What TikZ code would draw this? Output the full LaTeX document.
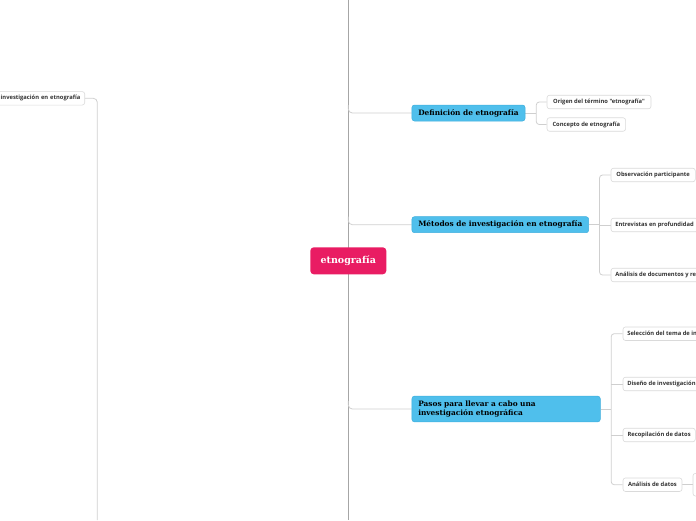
\documentclass[tikz,border=0pt]{standalone}
\usepackage{fontspec}
\setmainfont{DejaVu Serif}
\newfontfamily\labfont{Open Sans}
\newfontfamily\slabfont{DejaVu Serif}
\usetikzlibrary{calc,backgrounds}
\definecolor{pinkc}{HTML}{E91C63}
\definecolor{bluec}{HTML}{4FBFEC}
\definecolor{blueb}{HTML}{3FAEDC}
\definecolor{subb}{HTML}{DADADA}
\definecolor{txtc}{HTML}{333333}
\definecolor{trunkc}{HTML}{A6A6A6}
\definecolor{branchc}{HTML}{CFCFCF}
\tikzset{
  sub/.style={draw=subb, fill=white, rounded corners=2.5pt, line width=0.6pt,
    minimum height=13.5pt, inner ysep=0pt, inner xsep=4.3pt, anchor=west,
    font=\labfont\bfseries\fontsize{5.8}{7}\selectfont, text=txtc},
  mainbox/.style={draw=blueb, fill=bluec, rounded corners=2.5pt, line width=0.5pt,
    minimum height=16pt, inner xsep=6.3pt, inner ysep=0pt, anchor=west,
    font=\slabfont\bfseries\fontsize{7.4}{9}\selectfont, text=black},
  centerbox/.style={fill=pinkc, rounded corners=3.5pt, minimum width=76pt,
    minimum height=27pt, inner sep=0pt,
    font=\slabfont\bfseries\fontsize{9.5}{11}\selectfont, text=white},
  trunk/.style={draw=trunkc, line width=0.9pt},
  branch/.style={draw=branchc, line width=0.8pt, rounded corners=3pt}
}
\begin{document}
\begin{tikzpicture}[x=1pt,y=-1pt]
\useasboundingbox (0,0) rectangle (696,520);
\clip (0,0) rectangle (696,520);
% nodes
\node[centerbox] (c) at (348.3,260.8) {etnografía};
\node[mainbox, minimum width=112.3pt] (d) at (411.7,113) {Definición de etnografía};
\node[mainbox, minimum width=176pt] (m) at (411.7,224.7) {Métodos de investigación en etnografía};
\node[mainbox, minimum height=25.7pt, text width=175.7pt, align=left,
  font=\slabfont\bfseries\fontsize{7.4}{9}\selectfont] (p) at (411.7,409)
  {Pasos para llevar a cabo una\\investigación etnográfica};
\node[sub, minimum width=104pt] (o1) at (546.7,102) {Origen del término "etnografía"};
\node[sub, minimum width=78.6pt] (o2) at (546.7,124.5) {Concepto de etnografía};
\node[sub, minimum width=84.3pt] (m1) at (610.7,175) {Observación participante};
\node[sub] (m2) at (610.7,225) {Entrevistas en profundidad};
\node[sub] (m3) at (610.7,275) {Análisis de documentos y registros};
\node[sub] (p1) at (622.7,333.7) {Selección del tema de investigación};
\node[sub] (p2) at (622.7,384) {Diseño de investigación};
\node[sub, minimum width=72.3pt] (p3) at (622.7,435) {Recopilación de datos};
\node[sub, minimum width=59pt] (p4) at (622.7,484.7) {Análisis de datos};
\node[sub, minimum width=40pt, minimum height=22.7pt] (a1) at (692.7,484.7) {};
\node[sub, anchor=east, text width=110pt, align=right] (l1) at (85,98.3) {investigación en etnografía};
% connectors
\coordinate (ttop) at (348.3,0);
\coordinate (tbot) at (348.3,520);
\coordinate (lb) at (97.3,520);
\begin{scope}[on background layer]
\draw[trunk] (ttop) -- (tbot);
\draw[branch, rounded corners=4pt] (d.west -| ttop) ++(0,-8) |- (d.west);
\draw[branch, rounded corners=4pt] (m.west -| ttop) ++(0,-8) |- (m.west);
\draw[branch, rounded corners=4pt] (p.west -| ttop) ++(0,-8) |- (p.west);
% definicion
\coordinate (dj) at ($(d.east)+(11,0)$);
\draw[branch] (d.east) -- (dj);
\draw[branch] (o1.west) -| (dj) |- (o2.west);
% metodos
\coordinate (mj) at ($(m.east)+(10.6,0)$);
\draw[branch] (m.east) -- (mj);
\draw[branch] (m1.west) -| (mj) |- (m3.west);
\draw[branch] (m2.west -| mj) -- (m2.west);
% pasos
\coordinate (pj) at ($(p.east)+(10.7,0)$);
\draw[branch] (p.east) -- (pj);
\draw[branch] (p1.west) -| (pj) |- (p4.west);
\draw[branch] (p2.west -| pj) -- (p2.west);
\draw[branch] (p3.west -| pj) -- (p3.west);
\draw[branch] (p4.east) -- (a1.west);
% left
\draw[branch, rounded corners=4pt] (l1.east) -| (lb);
\end{scope}
\end{tikzpicture}
\end{document}
